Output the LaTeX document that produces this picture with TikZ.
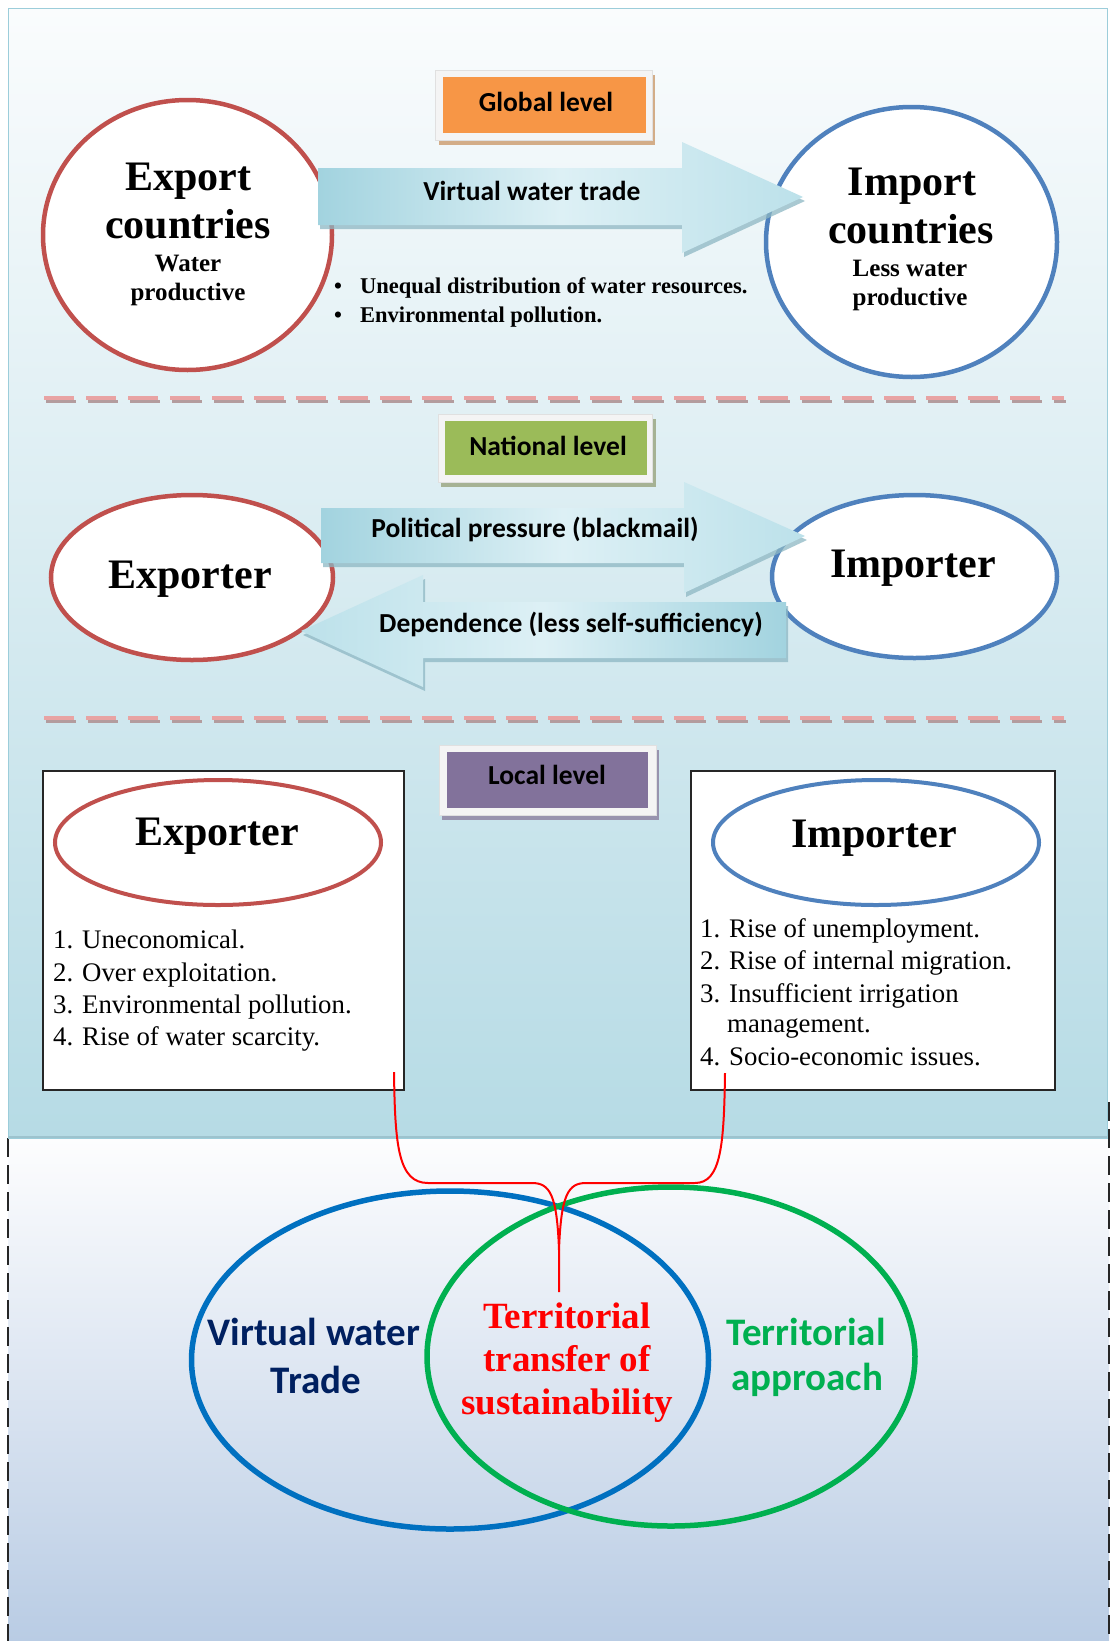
\documentclass[tikz,border=0pt]{standalone}
\usepackage{fontspec}
\setmainfont{Liberation Serif}
\newfontfamily\calib{Carlito}
\usetikzlibrary{shapes.geometric}

\definecolor{panelTop}{HTML}{FAFCFD}
\definecolor{panelBot}{HTML}{B6DBE5}
\definecolor{panelEdge}{HTML}{9CCDDA}
\definecolor{panelFoot}{HTML}{9DC3CE}
\definecolor{lowTop}{HTML}{FDFDFE}
\definecolor{lowBot}{HTML}{B9CCE4}
\definecolor{expRed}{HTML}{C0504D}
\definecolor{impBlue}{HTML}{4F81BD}
\definecolor{arrDark}{HTML}{A2D3DF}
\definecolor{arrMid}{HTML}{BCE1EA}
\definecolor{arrLight}{HTML}{DDF0F5}
\definecolor{arrShadow}{HTML}{8DB7C3}
\definecolor{dashPink}{HTML}{E8A3A3}
\definecolor{dashGrey}{HTML}{B39C9E}
\definecolor{globalFill}{HTML}{F79646}
\definecolor{globalShadow}{HTML}{D3AD88}
\definecolor{nationalFill}{HTML}{9BBB59}
\definecolor{nationalShadow}{HTML}{A6B294}
\definecolor{localFill}{HTML}{82729B}
\definecolor{localShadow}{HTML}{9893AE}
\definecolor{frameGrey}{HTML}{F4F4F4}
\definecolor{vennBlue}{HTML}{0070C0}
\definecolor{vennGreen}{HTML}{00B050}
\definecolor{navy}{HTML}{002060}

\tikzset{
  ring/.style={ellipse, fill=white, line width=4.5pt, inner sep=0pt, outer sep=0pt},
  venn/.style={ellipse, line width=5.5pt, inner sep=0pt},
  serbig/.style={anchor=base, inner sep=0pt, font=\bfseries\fontsize{42}{46}\selectfont},
  sersmall/.style={anchor=base, inner sep=0pt, font=\bfseries\fontsize{25}{28}\selectfont},
  bullettext/.style={anchor=base west, inner sep=0pt, font=\bfseries\fontsize{22.5}{26}\selectfont},
  bulletdot/.style={anchor=base, inner sep=0pt, font=\bfseries\fontsize{22.5}{26}\selectfont},
  sanslabel/.style={anchor=base, inner sep=0pt, font=\calib\bfseries\fontsize{27.5}{30}\selectfont},
  listitem/.style={anchor=base west, inner sep=0pt, font=\fontsize{26.8}{30}\selectfont},
  levelframe/.style={fill=frameGrey, draw=black!12, line width=0.6pt},
  levelfill/.style={draw=none, inner sep=0pt},
  listbox/.style={draw=black!85, fill=white, line width=1.6pt},
  vennlabel/.style={anchor=base, inner sep=0pt, font=\calib\bfseries\fontsize{39}{42}\selectfont},
  vennmid/.style={anchor=base, inner sep=0pt, text=red, font=\bfseries\fontsize{37}{40}\selectfont},
  arrowright/.style={left color=arrDark, right color=arrMid, middle color=arrLight},
  arrowleft/.style={left color=arrMid, right color=arrDark, middle color=arrLight},
  arrowshade/.style={fill=arrShadow, opacity=0.75},
  sepPink/.style={draw=dashPink, line width=4pt, dash pattern=on 30pt off 12pt},
  sepGrey/.style={draw=dashGrey, line width=3.5pt, dash pattern=on 30pt off 12pt},
  bracket/.style={draw=red, line width=2pt},
  lowedge/.style={draw=black!85, line width=2.5pt, dash pattern=on 19pt off 8pt},
}

\begin{document}
\begin{tikzpicture}[x=1pt, y=-1pt]
\useasboundingbox[fill=white] (0,0) rectangle (1112,1641);

% lower area with the Venn diagram
\shade[top color=lowTop, bottom color=lowBot] (8,1138) rectangle (1109,1641);
\draw[lowedge] (8,1138) -- (8,1641);
\draw[lowedge] (1109,1102) -- (1109,1641);

% upper panel with the three levels
\shadedraw[top color=panelTop, bottom color=panelBot, draw=panelEdge, line width=1pt] (8,8) rectangle (1107,1138);
\draw[panelFoot, line width=2pt] (8,1137) -- (1107,1137);

% separators between the levels
\draw[sepGrey] (46,401.5) -- (1066,401.5);
\draw[sepPink] (44,398) -- (1064,398);
\draw[sepGrey] (46,721.5) -- (1066,721.5);
\draw[sepPink] (44,718) -- (1064,718);

% level tags
\fill[globalShadow] (439,75) rectangle (655,145);
\draw[levelframe] (435,70) rectangle (652,140);
\node[levelfill, fill=globalFill, minimum width=203, minimum height=56] (globalTag) at (544.5,105) {};
\node[sanslabel] (globalTxt) at (546,111) {Global level};

\fill[nationalShadow] (441,419) rectangle (656,487);
\draw[levelframe] (438,414) rectangle (652,482);
\node[levelfill, fill=nationalFill, minimum width=202, minimum height=54] (nationalTag) at (546,448) {};
\node[sanslabel] (nationalTxt) at (548,455) {National level};

\fill[localShadow] (442,750) rectangle (659,820);
\draw[levelframe] (439,745) rectangle (656,815);
\node[levelfill, fill=localFill, minimum width=201, minimum height=56] (localTag) at (547.5,780) {};
\node[sanslabel] (localTxt) at (547,784) {Local level};

% global level
\node[ring, draw=expRed, minimum width=289, minimum height=270] (expG) at (187.5,235) {};
\node[ring, draw=impBlue, minimum width=291, minimum height=270] (impG) at (911.5,242) {};

\begin{scope}[shift={(2,4)}]
\fill[arrowshade] (318,168) -- (682,168) -- (682,142) -- (803,197) -- (682,253) -- (682,225) -- (318,225) -- cycle;
\end{scope}
\shade[arrowright] (318,168) -- (682,168) -- (682,142) -- (803,197) -- (682,253) -- (682,225) -- (318,225) -- cycle;
\node[sanslabel] (vwtTxt) at (532,200) {Virtual water trade};

\node[serbig] (expG1) at (188,190) {Export};
\node[serbig] (expG2) at (188,238) {countries};
\node[sersmall] (expG3) at (188,271) {Water};
\node[sersmall] (expG4) at (188,300) {productive};

\node[serbig] (impG1) at (912,195) {Import};
\node[serbig] (impG2) at (911,243) {countries};
\node[sersmall] (impG3) at (910,276) {Less water};
\node[sersmall] (impG4) at (910,305) {productive};

\node[bulletdot] (bul1) at (338,293) {•};
\node[bullettext] (issue1) at (360,293) {Unequal distribution of water resources.};
\node[bulletdot] (bul2) at (338,322) {•};
\node[bullettext] (issue2) at (360,322) {Environmental pollution.};

% national level
\node[ring, draw=expRed, minimum width=282, minimum height=165] (expN) at (192,577.5) {};
\node[ring, draw=impBlue, minimum width=285, minimum height=163] (impN) at (914.5,576.5) {};

\begin{scope}[shift={(2,4)}]
\fill[arrowshade] (321,508) -- (684,508) -- (684,482) -- (805,536) -- (684,593) -- (684,563) -- (321,563) -- cycle;
\fill[arrowshade] (786,602) -- (423,602) -- (423,575) -- (301,631) -- (423,687) -- (423,658) -- (786,658) -- cycle;
\end{scope}
\shade[arrowright] (321,508) -- (684,508) -- (684,482) -- (805,536) -- (684,593) -- (684,563) -- (321,563) -- cycle;
\shade[arrowleft] (786,602) -- (423,602) -- (423,575) -- (301,631) -- (423,687) -- (423,658) -- (786,658) -- cycle;
\node[sanslabel] (pressTxt) at (535,537) {Political pressure (blackmail)};
\node[sanslabel] (depTxt) at (571,632) {Dependence (less self-sufficiency)};

\node[serbig] (expNTxt) at (190,588) {Exporter};
\node[serbig] (impNTxt) at (913,577) {Importer};

% local level
\draw[listbox] (43,771) rectangle (404,1090);
\draw[listbox] (691,771) rectangle (1055,1090);
\node[ring, draw=expRed, line width=4pt, minimum width=326, minimum height=125] (expL) at (218,842.5) {};
\node[ring, draw=impBlue, line width=4pt, minimum width=326, minimum height=125] (impL) at (876,842.5) {};
\node[serbig] (expLTxt) at (217,845) {Exporter};
\node[serbig] (impLTxt) at (874,847) {Importer};

\node[listitem] (ex1) at (53,948) {1. Uneconomical.};
\node[listitem] (ex2) at (53,981) {2. Over exploitation.};
\node[listitem] (ex3) at (53,1013) {3. Environmental pollution.};
\node[listitem] (ex4) at (53,1045) {4. Rise of water scarcity.};

\node[listitem] (im1) at (700,937) {1. Rise of unemployment.};
\node[listitem] (im2) at (700,969) {2. Rise of internal migration.};
\node[listitem] (im3) at (700,1002) {3. Insufficient irrigation};
\node[listitem] (im3b) at (727,1032) {management.};
\node[listitem] (im4) at (700,1065) {4. Socio-economic issues.};

% Venn diagram
\node[venn, draw=vennBlue, minimum width=517, minimum height=338] (vennTrade) at (450,1360) {};
\node[venn, draw=vennGreen, minimum width=488, minimum height=339] (vennTerr) at (671,1356.5) {};

\node[vennlabel, text=navy] (vt1) at (314,1345) {Virtual water};
\node[vennlabel, text=navy] (vt2) at (316,1393) {Trade};
\node[vennmid] (mid1) at (567,1328) {Territorial};
\node[vennmid] (mid2) at (567,1371) {transfer of};
\node[vennmid] (mid3) at (567,1414) {sustainability};
\node[vennlabel, text=vennGreen] (ta1) at (806,1345) {Territorial};
\node[vennlabel, text=vennGreen] (ta2) at (807,1390) {approach};

% brace joining both local lists to the overlap
\coordinate (bL) at (394,1072);
\coordinate (bR) at (725,1073);
\coordinate (bJoin) at (559,1250);
\coordinate (bTip) at (559,1292);
\draw[bracket] (bL) .. controls (395,1145) and (398,1183) .. (428,1183) -- (532,1183)
  .. controls (550,1183) and (557,1195) .. (bJoin) -- (bTip);
\draw[bracket] (bR) .. controls (724,1145) and (721,1183) .. (695,1183) -- (586,1183)
  .. controls (568,1183) and (561,1195) .. (bJoin);
\end{tikzpicture}
\end{document}
